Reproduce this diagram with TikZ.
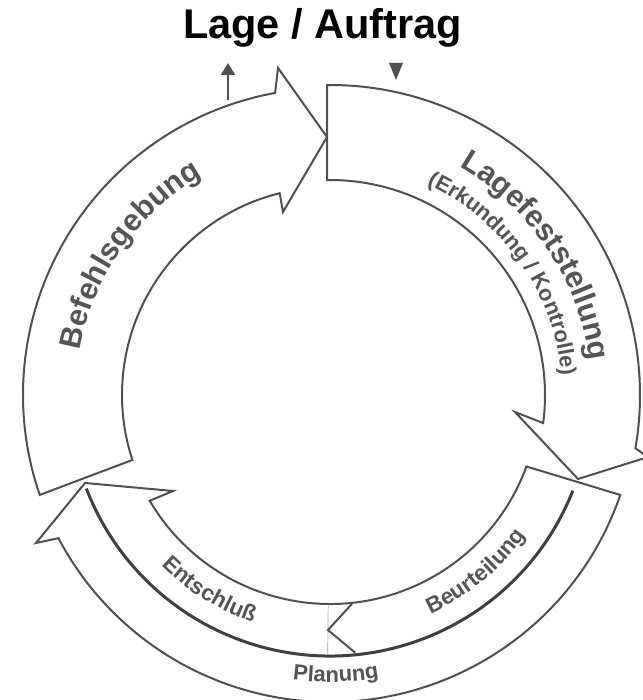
\documentclass[tikz,border=0pt]{standalone}
\usepackage{fontspec}
\setmainfont{Liberation Sans}
\usetikzlibrary{decorations.text,calc,arrows.meta}
\definecolor{linegray}{HTML}{505050}
\definecolor{labelgray}{HTML}{555555}
\definecolor{midgray}{HTML}{404040}
\definecolor{thingray}{HTML}{AAAAAA}
\newcommand{\lblbig}{\bfseries\fontsize{30.5}{30.5}\selectfont\color{labelgray}}
\newcommand{\lblmid}{\bfseries\fontsize{22}{22}\selectfont\color{labelgray}}
\newcommand{\lblsmall}{\bfseries\fontsize{22.5}{22.5}\selectfont\color{labelgray}}
\begin{document}
\begin{tikzpicture}[x=1pt,y=1pt,
  band/.style={draw=linegray, line width=2pt, line join=miter, fill=white},
  midline/.style={draw=midgray, line width=3pt},
  sepline/.style={draw=thingray, line width=0.7pt},
  chevron/.style={draw=linegray, line width=2pt, line join=miter},
  arclabel/.style={decorate, decoration={text along path, text align=center}},
  ]
\useasboundingbox (0,0) rectangle (642,700);
\coordinate (C) at (330,305);

% Befehlsgebung
\draw[band] ($(C)+(199:307)$) arc[start angle=199, end angle=100.3, radius=307]
  -- (278,632) -- (327,563) -- (283,488)
  -- ($(C)+(104:208)$) arc[start angle=104, end angle=198.2, radius=208] -- cycle;

% Lagefeststellung
\draw[band] ($(C)+(90.55:310)$) arc[start angle=90.55, end angle=-9.9, radius=310]
  -- (648,243) -- (578,221) -- (515,288)
  -- ($(C)+(-7.5:215)$) arc[start angle=-7.5, end angle=90.8, radius=215] -- cycle;

% lower arrow (Beurteilung / Entschluss / Planung)
\draw[band] ($(C)+(-20:209)$) -- ($(C)+(-19:307)$)
  arc[start angle=-19, end angle=-152.2, radius=307]
  -- (36,157) -- (85,217) -- (173,209)
  -- ($(C)+(210.4:209)$) arc[start angle=210.4, end angle=340, radius=209] -- cycle;

\draw[midline] ($(C)+(-21.5:261)$) arc[start angle=-21.5, end angle=-159, radius=261];
\draw[sepline] ($(C)+(-90.5:211)$) -- ($(C)+(-90.5:259)$);
\draw[chevron] ($(C)+(-84:210)$) -- ($(C)+(-90.5:235)$) -- ($(C)+(-84.4:259)$);

% labels
\path[arclabel, decoration={text={|\lblbig|Befehlsgebung}}]
  ($(C)+(190:254)$) arc[start angle=190, end angle=100, radius=254];
\path[arclabel, decoration={text={|\lblbig|Lagefeststellung}}]
  ($(C)+(79:262)$) arc[start angle=79, end angle=-11, radius=262];
\path[arclabel, decoration={text={|\lblmid|(Erkundung / Kontrolle)}}]
  ($(C)+(85:232)$) arc[start angle=85, end angle=-15, radius=232];
\path[arclabel, decoration={text={|\lblsmall|Beurteilung}}]
  ($(C)+(-95.5:241)$) arc[start angle=-95.5, end angle=-5.5, radius=241];
\path[arclabel, decoration={text={|\lblsmall|Entschluß}}]
  ($(C)+(193.3:240)$) arc[start angle=193.3, end angle=283.3, radius=240];
\path[arclabel, decoration={text={|\lblmid|Planung}}]
  ($(C)+(-133.8:287)$) arc[start angle=-133.8, end angle=-43.8, radius=287];

% title and small arrows
\node[font=\bfseries\fontsize{41.5}{41.5}\selectfont, text=black, anchor=base, inner sep=0pt] (title) at (322.5,661) {Lage / Auftrag};
\coordinate (upfoot) at (228,600);
\coordinate (uptip) at (228,637);
\draw[linegray, line width=2.5pt, -{Triangle[length=12pt,width=14pt]}] (upfoot) -- (uptip);
\coordinate (dnL) at (389,637);
\coordinate (dnR) at (403,637);
\coordinate (dnTip) at (396,620);
\fill[linegray] (dnL) -- (dnR) -- (dnTip) -- cycle;
\end{tikzpicture}
\end{document}
